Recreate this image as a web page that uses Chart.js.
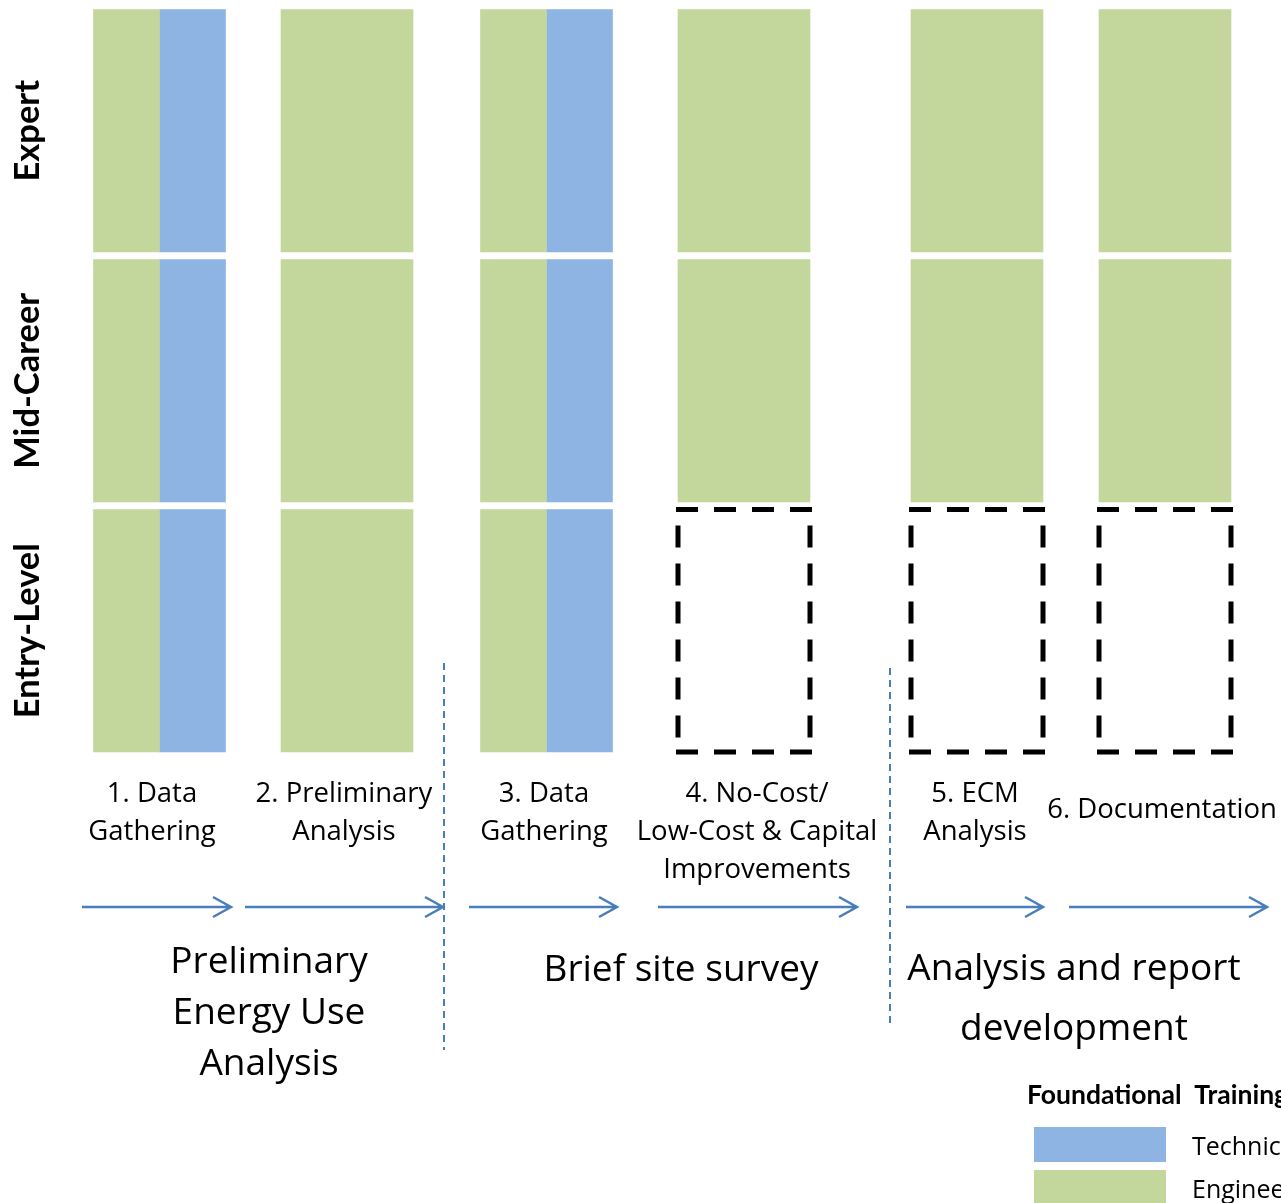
<!DOCTYPE html>
<html>
<head>
<meta charset="utf-8">
<script src="https://cdn.jsdelivr.net/npm/chart.js@4.4.1/dist/chart.umd.min.js"></script>
<style>
  html, body { margin: 0; padding: 0; background: #fff; }
  #wrap { width: 1281px; height: 1203px; }
</style>
</head>
<body>
<div id="wrap"><canvas id="skillChart" width="1281" height="1203"></canvas></div>
<script>
// career levels, bottom to top
const levels = ["Entry-Level", "Mid-Career", "Expert"];

// the six audit steps
const steps = [
  ["1. Data", "Gathering"],
  ["2. Preliminary", "Analysis"],
  ["3. Data", "Gathering"],
  ["4. No-Cost/", "Low-Cost & Capital", "Improvements"],
  ["5. ECM", "Analysis"],
  ["6. Documentation"],
];

// foundational training behind each step
const needsTechnical = [true, false, true, false, false, false];
// lowest level that does the step (0 = entry-level)
const lowestLevel = [0, 0, 0, 1, 1, 1];

const phases = [
  ["Preliminary", "Energy Use", "Analysis"],
  ["Brief site survey"],
  ["Analysis and report", "development"],
];

const legendTitle = "Foundational  Training";
const trainingTypes = ["Technical", "Engineering"];

// layout / style
const GREEN = "#c3d69b";
const BLUE = "#8eb4e3";
const ARROW = "#4a7ebb";
const FONT = "'Open Sans', Lato, sans-serif";
const BOLD_FONT = "Lato, 'Open Sans', sans-serif";
const stepCenters = [159.5, 347, 546.5, 744, 977, 1165];
const colWidth = 132;
const rowFill = 0.97;

const fullGreen = [], halfGreen = [], halfBlue = [], openCells = [];
steps.forEach((s, i) => {
  levels.forEach((lv, j) => {
    const span = [j, j + rowFill];
    if (j < lowestLevel[i]) {
      openCells.push({ x: stepCenters[i], y: span });
    } else if (needsTechnical[i]) {
      halfGreen.push({ x: stepCenters[i] - colWidth / 4, y: span });
      halfBlue.push({ x: stepCenters[i] + colWidth / 4, y: span });
    } else {
      fullGreen.push({ x: stepCenters[i], y: span });
    }
  });
});

const diagramPlugin = {
  id: "diagram",
  afterDatasetsDraw(chart) {
    const ctx = chart.ctx;
    const yScale = chart.scales.y;

    // dashed cells: levels that don't do the step yet
    ctx.save();
    ctx.strokeStyle = "#000";
    ctx.lineWidth = 5;
    ctx.setLineDash([22, 16]);
    chart.getDatasetMeta(3).data.forEach((el) => {
      const { x, y, base, width } = el.getProps(["x", "y", "base", "width"], true);
      const l = x - width / 2, r = x + width / 2;
      ctx.beginPath();
      ctx.lineDashOffset = 0;
      ctx.moveTo(l - 2, y); ctx.lineTo(r + 2, y);
      ctx.moveTo(r + 2, base); ctx.lineTo(l - 2, base);
      ctx.stroke();
      ctx.beginPath();
      ctx.lineDashOffset = 22;
      ctx.moveTo(l, y); ctx.lineTo(l, base);
      ctx.moveTo(r, y); ctx.lineTo(r, base);
      ctx.stroke();
    });
    ctx.restore();

    // row labels
    ctx.save();
    ctx.fillStyle = "#000";
    ctx.font = "bold 34.5px " + BOLD_FONT;
    ctx.textAlign = "center";
    ctx.textBaseline = "middle";
    levels.forEach((lv, j) => {
      const yc = yScale.getPixelForValue(j + rowFill / 2);
      ctx.save();
      ctx.translate(28, yc);
      ctx.rotate(-Math.PI / 2);
      ctx.fillText(lv, 0, 0);
      ctx.restore();
    });
    ctx.restore();

    // step labels
    const labelX = [152, 344, 544, 757, 975, 1162];
    ctx.save();
    ctx.fillStyle = "#000";
    ctx.font = "27.5px " + FONT;
    ctx.textAlign = "center";
    ctx.textBaseline = "middle";
    steps.forEach((lines, i) => {
      const top = lines.length === 1 ? 810 : 794;
      lines.forEach((t, k) => ctx.fillText(t, labelX[i], top + k * 38));
    });
    ctx.restore();

    // arrows, one per step
    const arrows = [[82, 231], [245, 443], [469, 617], [658, 857], [906, 1043], [1069, 1267]];
    ctx.save();
    ctx.strokeStyle = ARROW;
    ctx.lineWidth = 2.5;
    ctx.lineCap = "butt";
    arrows.forEach(([a, b]) => {
      const ay = 907;
      ctx.beginPath();
      ctx.moveTo(a, ay); ctx.lineTo(b - 1, ay);
      ctx.moveTo(b - 18, ay - 10); ctx.lineTo(b, ay); ctx.lineTo(b - 18, ay + 10);
      ctx.stroke();
    });

    // phase dividers
    ctx.lineWidth = 2;
    ctx.setLineDash([7, 5]);
    [[444, 663, 1050], [890, 668, 1028]].forEach(([x, y1, y2]) => {
      ctx.beginPath();
      ctx.moveTo(x, y1); ctx.lineTo(x, y2);
      ctx.stroke();
    });
    ctx.restore();

    // phase labels
    const phaseX = [269, 681, 1074];
    const phaseTop = [962, 970, 969];
    const phaseGap = [51, 0, 60];
    ctx.save();
    ctx.fillStyle = "#000";
    ctx.font = "37px " + FONT;
    ctx.textAlign = "center";
    ctx.textBaseline = "middle";
    phases.forEach((lines, p) => {
      lines.forEach((t, k) => ctx.fillText(t, phaseX[p], phaseTop[p] + k * phaseGap[p]));
    });
    ctx.restore();

    // legend
    const colors = [chart.data.datasets[2].backgroundColor, chart.data.datasets[0].backgroundColor];
    ctx.save();
    ctx.fillStyle = "#000";
    ctx.font = "bold 26.5px " + BOLD_FONT;
    ctx.textAlign = "left";
    ctx.textBaseline = "middle";
    ctx.fillText(legendTitle, 1027, 1095);
    ctx.font = "25px " + FONT;
    trainingTypes.forEach((t, k) => {
      const by = 1127 + k * 43;
      ctx.fillStyle = colors[k];
      ctx.fillRect(1034, by, 132, 35);
      ctx.fillStyle = "#000";
      ctx.fillText(t, 1192, by + 21);
    });
    ctx.restore();
  },
};

const ctx = document.getElementById("skillChart").getContext("2d");
new Chart(ctx, {
  type: "bar",
  data: {
    datasets: [
      { label: "Engineering", data: fullGreen, backgroundColor: GREEN, barThickness: colWidth },
      { label: "Engineering", data: halfGreen, backgroundColor: GREEN, barThickness: colWidth / 2 },
      { label: "Technical", data: halfBlue, backgroundColor: BLUE, barThickness: colWidth / 2 },
      { label: "Not at this level", data: openCells, backgroundColor: "rgba(0,0,0,0)", barThickness: colWidth },
    ],
  },
  options: {
    responsive: false,
    animation: false,
    layout: { padding: 0 },
    datasets: { bar: { grouped: false, borderWidth: 0 } },
    scales: {
      x: { type: "linear", min: 0, max: 1281, offset: false, display: false },
      y: { type: "linear", min: -1.804, max: 3.008, display: false },
    },
    plugins: {
      legend: { display: false },
      tooltip: { enabled: false },
    },
  },
  plugins: [diagramPlugin],
});
</script>
</body>
</html>
